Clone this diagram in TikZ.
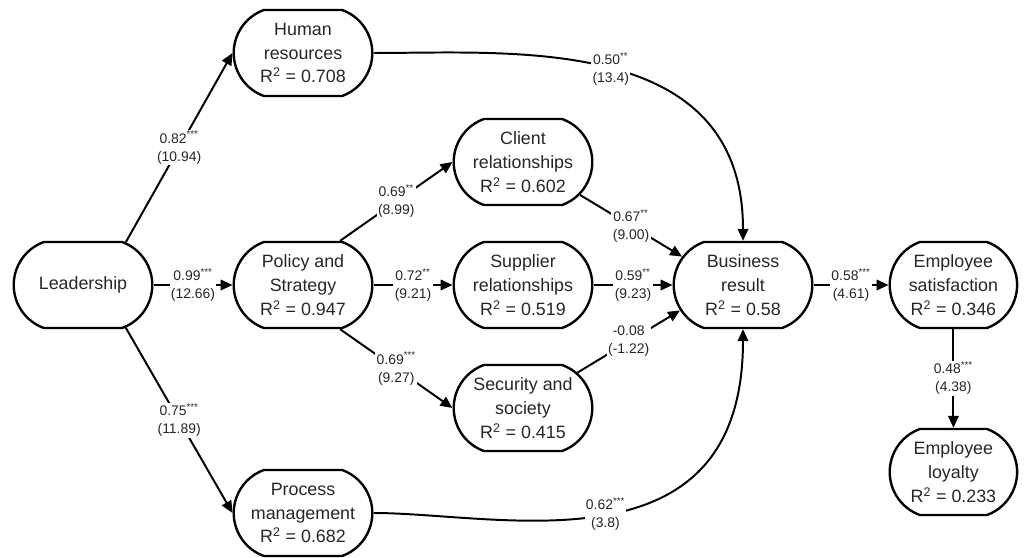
\documentclass[tikz,border=0pt]{standalone}
\usepackage{fontspec}
\setmainfont{Liberation Sans}
\usetikzlibrary{positioning,shapes.misc,arrows.meta}
\newcommand\boxtxt{\fontsize{12.7}{17}\selectfont}
\newcommand\pathtxt{\fontsize{9.9}{12.8}\selectfont}

\begin{document}
\begin{tikzpicture}[node distance=5.5cm,
    construct/.style={draw, rounded rectangle, rounded rectangle arc length=140, line width=1.7pt, minimum width=3.7cm, minimum height=2.15cm, align=center, text=black!85, font=\boxtxt},
    coef/.style={fill=white, inner sep=1pt, align=center, text=black!85, font=\pathtxt},
    link/.style={line width=1.4pt, -{Triangle[length=8.5pt,width=7.5pt]}}]
  \useasboundingbox (-2.075,7.125) rectangle (23.525,-6.825);

  % Nodes
  \node[construct] (leadership) {Leadership};
  \node[construct, right of=leadership] (policy) {Policy and\\Strategy\\R\textsuperscript{2} = 0.947};
  \node[construct, above of=policy, node distance=5.8cm] (human) {Human\\resources\\R\textsuperscript{2} = 0.708};
  \node[construct, below of=policy, node distance=5.7cm] (process) {Process\\management\\R\textsuperscript{2} = 0.682};
  \node[construct, right of=policy] (supplier) {Supplier\\relationships\\R\textsuperscript{2} = 0.519};
  \node[construct, above of=supplier, node distance=3.075cm] (client) {Client\\relationships\\R\textsuperscript{2} = 0.602};
  \node[construct, below of=supplier, node distance=3.075cm] (security) {Security and\\society\\R\textsuperscript{2} = 0.415};
  \node[construct, right of=supplier] (business) {Business\\result\\R\textsuperscript{2} = 0.58};
  \node[construct, minimum width=3.42cm, right of=business, node distance=5.26cm] (satisfaction) {Employee\\satisfaction\\R\textsuperscript{2} = 0.346};
  \node[construct, minimum width=3.42cm, below of=satisfaction, node distance=4.675cm] (loyalty) {Employee\\loyalty\\R\textsuperscript{2} = 0.233};

  % Connections
  \draw[link] (leadership.45) -- node[coef] {0.82\textsuperscript{***}\\(10.94)} (human.west);
  \draw[link] (leadership.east) -- node[coef] {0.99\textsuperscript{***}\\(12.66)} (policy.west);
  \draw[link] (leadership.-45) -- node[coef] {0.75\textsuperscript{***}\\(11.89)} (process.west);

  \draw[link] (policy.50) -- node[coef] {0.69\textsuperscript{**}\\(8.99)} (client.west);
  \draw[link] (policy.east) -- node[coef] {0.72\textsuperscript{**}\\(9.21)} (supplier.west);
  \draw[link] (policy.-50) -- node[coef] {0.69\textsuperscript{***}\\(9.27)} (security.west);

  \draw[link] (client.-30) -- node[coef] {0.67\textsuperscript{**}\\(9.00)} (business.155);
  \draw[link] (supplier.east) -- node[coef] {0.59\textsuperscript{**}\\(9.23)} (business.west);
  \draw[link] (security.33) -- node[coef] {-0.08\\(-1.22)} (business.202);

  \draw[link] (human.east) .. controls +(3.5,0) and +(0,5.175) .. (business.north)
    node[coef, pos=0.5] {0.50\textsuperscript{**}\\(13.4)};
  \draw[link] (process.east) .. controls +(3.15,0) and +(0,-6.175) .. (business.south)
    node[coef, pos=0.5] {0.62\textsuperscript{***}\\(3.8)};

  \draw[link] (business.east) -- node[coef] {0.58\textsuperscript{***}\\(4.61)} (satisfaction.west);
  \draw[link] (satisfaction.south) -- node[coef] {0.48\textsuperscript{***}\\(4.38)} (loyalty.north);
\end{tikzpicture}
\end{document}
